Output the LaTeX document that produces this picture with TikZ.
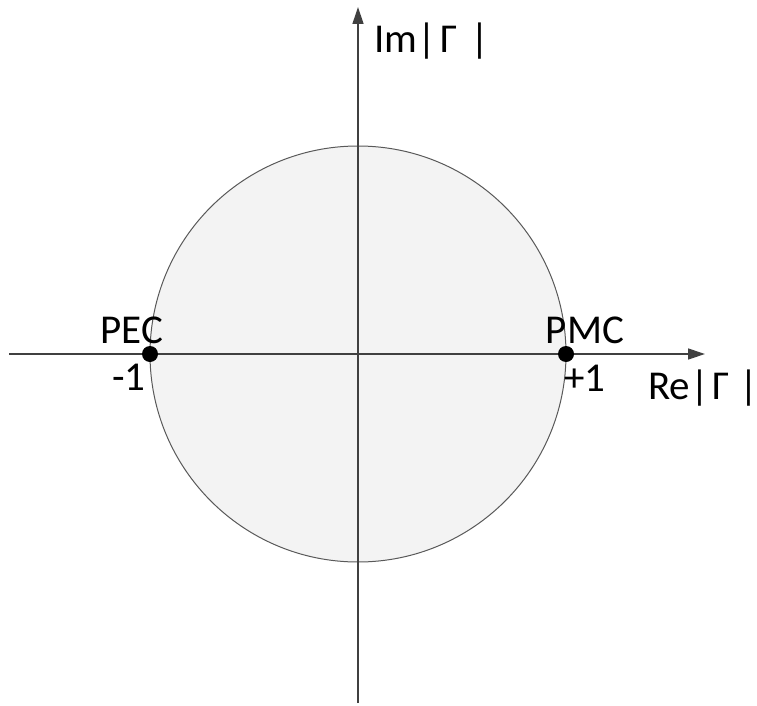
\documentclass[tikz,border=0pt]{standalone}
\usepackage{fontspec}
\setmainfont{Carlito}
\usetikzlibrary{arrows.meta}
\definecolor{axisgray}{HTML}{404040}
\definecolor{circgray}{HTML}{595959}
\definecolor{circfill}{HTML}{F3F3F3}
\tikzset{
  axisline/.style={draw=axisgray, line width=1.3pt, -{Triangle[length=17pt,width=11pt]}},
  lbl/.style={font=\fontsize{41}{46}\selectfont, text=black, inner sep=0pt},
  dot/.style={circle, fill=black, minimum size=16pt, inner sep=0pt},
}
\begin{document}
\begin{tikzpicture}[x=1pt,y=-1pt]
\useasboundingbox (0,0) rectangle (757,706);
\coordinate (O) at (358,354);
\fill[circfill] (O) circle (208);
\draw[circgray, line width=1pt] (O) circle (208);
\coordinate (xs) at (9,354);
\coordinate (xe) at (705,354);
\coordinate (ys) at (358,703);
\coordinate (ye) at (358,7);
\draw[axisline] (xs) -- (xe);
\draw[axisline] (ys) -- (ye);
\node[dot] (pec) at (150,354) {};
\node[dot] (pmc) at (566,354) {};
\node[lbl] (pecl) at (132,330) {PEC};
\node[lbl] (pmcl) at (585,330) {PMC};
\node[lbl] (m1) at (129,377) {-1};
\node[lbl] (p1) at (585,378) {+1};
\node[lbl, anchor=west] (re) at (648,388) {Re|\hspace{3pt}Γ\hspace{1pt} |};
\node[lbl, anchor=west] (im) at (374,41) {Im|\hspace{4pt}Γ\hspace{4pt} |};
\end{tikzpicture}
\end{document}
